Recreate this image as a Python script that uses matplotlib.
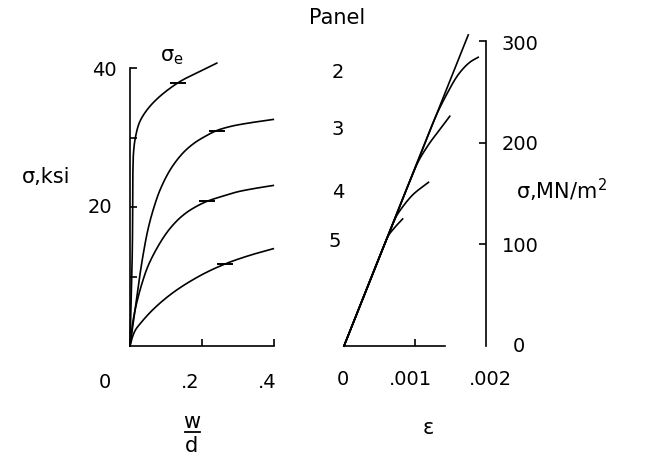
import numpy as np
import matplotlib
matplotlib.use("Agg")
import matplotlib.pyplot as plt
from matplotlib.transforms import blended_transform_factory, ScaledTranslation
from matplotlib.lines import Line2D

plt.rcParams["font.family"] = ["DejaVu Sans"]
plt.rcParams["mathtext.default"] = "regular"

# ---- stress vs. w/d (ksi), one curve per panel ----
p2_wd = [0, 0.004, 0.0065, 0.0075, 0.008, 0.010, 0.015, 0.025, 0.042, 0.074, 0.134, 0.19, 0.241]
p2_ksi = [0, 8, 14, 20, 25, 28, 30, 32, 33.6, 35.5, 37.9, 39.4, 40.7]
p3_wd = [0, 0.012, 0.024, 0.036, 0.05, 0.065, 0.083, 0.111, 0.144, 0.176, 0.21, 0.241, 0.28, 0.32, 0.398]
p3_ksi = [0, 4.5, 9, 13, 16.8, 19.7, 22.4, 25.3, 27.6, 29.1, 30.2, 31.0, 31.6, 32.0, 32.6]
p4_wd = [0, 0.008, 0.02, 0.035, 0.05, 0.074, 0.102, 0.13, 0.157, 0.185, 0.213, 0.26, 0.3, 0.35, 0.398]
p4_ksi = [0, 3.5, 6.5, 9.3, 11.5, 14.0, 16.3, 18.0, 19.2, 20.1, 20.8, 21.6, 22.2, 22.7, 23.1]
p5_wd = [0, 0.005, 0.014, 0.028, 0.065, 0.12, 0.194, 0.264, 0.33, 0.398]
p5_ksi = [0, 1.0, 2.2, 3.2, 5.3, 7.7, 10.1, 11.8, 13.0, 14.0]

# sigma_e marks on each curve
se_wd = [0.134, 0.241, 0.213, 0.264]
se_ksi = [37.9, 31.0, 20.8, 11.8]

# ---- stress vs. strain (MN/m^2) ----
lin_eps = [0, 0.00175]
lin_mn = [0, 306]
s2_eps = [0, 0.00057, 0.00105, 0.0013, 0.001465, 0.00158, 0.00168, 0.00178, 0.00189]
s2_mn = [0, 100, 184, 227, 250, 264, 273, 279.5, 284]
s3_eps = [0, 0.00057, 0.00095, 0.00105, 0.0012, 0.00135, 0.00149]
s3_mn = [0, 100, 166, 182, 199, 213, 226]
s4_eps = [0, 0.00057, 0.0007, 0.00074, 0.00086, 0.00098, 0.00119]
s4_mn = [0, 100, 122, 128, 140, 149.5, 161]
s5_eps = [0, 0.00057, 0.000625, 0.00072, 0.000826]
s5_mn = [0, 100, 108.5, 117, 125]

panel_names = ["2", "3", "4", "5"]

W, H = 646, 460
fig = plt.figure(figsize=(W / 100, H / 100), dpi=100)


def box(x0, y0, x1, y1):
    return [x0 / W, 1 - y1 / H, (x1 - x0) / W, (y1 - y0) / H]


def smooth(x, y, sx, sy, n=24):
    """Centripetal Catmull-Rom through the given points (scaled by sx, sy)."""
    P = np.column_stack([np.asarray(x) / sx, np.asarray(y) / sy])
    P = np.vstack([2 * P[0] - P[1], P, 2 * P[-1] - P[-2]])
    out = []
    for i in range(1, len(P) - 2):
        p0, p1, p2, p3 = P[i - 1], P[i], P[i + 1], P[i + 2]
        t0 = 0.0
        t1 = t0 + np.linalg.norm(p1 - p0) ** 0.5 + 1e-9
        t2 = t1 + np.linalg.norm(p2 - p1) ** 0.5 + 1e-9
        t3 = t2 + np.linalg.norm(p3 - p2) ** 0.5 + 1e-9
        t = np.linspace(t1, t2, n)[:, None]
        a1 = (t1 - t) / (t1 - t0) * p0 + (t - t0) / (t1 - t0) * p1
        a2 = (t2 - t) / (t2 - t1) * p1 + (t - t1) / (t2 - t1) * p2
        a3 = (t3 - t) / (t3 - t2) * p2 + (t - t2) / (t3 - t2) * p3
        b1 = (t2 - t) / (t2 - t0) * a1 + (t - t0) / (t2 - t0) * a2
        b2 = (t3 - t) / (t3 - t1) * a2 + (t - t1) / (t3 - t1) * a3
        c = (t2 - t) / (t2 - t1) * b1 + (t - t1) / (t2 - t1) * b2
        out.append(c if i == 1 else c[1:])
    C = np.vstack(out)
    return C[:, 0] * sx, C[:, 1] * sy


LW = 1.2
FS = 14

# ---------------- left panel ----------------
axL = fig.add_axes(box(130, 69, 274, 347))
axL.set_xlim(0, 0.4)
axL.set_ylim(0, 40)
for s in ("top", "right"):
    axL.spines[s].set_visible(False)
for s in ("left", "bottom"):
    axL.spines[s].set_linewidth(LW)
axL.set_xticks([0.2, 0.4])
axL.set_yticks([10, 20, 30, 40])
axL.set_xticklabels([])
axL.set_yticklabels([])
axL.tick_params(direction="in", length=5, width=1.2)

for xs, ys in [(p2_wd, p2_ksi), (p3_wd, p3_ksi), (p4_wd, p4_ksi), (p5_wd, p5_ksi)]:
    sx_, sy_ = smooth(xs, ys, 0.4, 40)
    axL.plot(sx_, sy_, color="black", lw=LW, clip_on=False)
axL.plot(se_wd, se_ksi, linestyle="none", marker="_", markersize=12,
         markeredgewidth=1.4, color="black", clip_on=False)

# ---------------- right panel ----------------
axR = fig.add_axes(box(344, 42, 486, 347))
axR.set_xlim(0, 0.002)
axR.set_ylim(0, 300)
for s in ("top", "left"):
    axR.spines[s].set_visible(False)
for s in ("right", "bottom"):
    axR.spines[s].set_linewidth(LW)
axR.spines["bottom"].set_bounds(0, 0.00142)
axR.yaxis.tick_right()
axR.set_xticks([0.001])
axR.set_yticks([100, 200, 300])
axR.set_xticklabels([])
axR.set_yticklabels([])
axR.tick_params(direction="in", length=5, width=1.2)

axR.plot(lin_eps, lin_mn, color="black", lw=LW, clip_on=False)
for xs, ys in [(s2_eps, s2_mn), (s3_eps, s3_mn), (s4_eps, s4_mn), (s5_eps, s5_mn)]:
    sx_, sy_ = smooth(xs, ys, 0.002, 300)
    axR.plot(sx_, sy_, color="black", lw=LW, clip_on=False)


# ---------------- tick labels ----------------
def off(dx, dy=0):
    return ScaledTranslation(dx / 100, -dy / 100, fig.dpi_scale_trans)


def xlab(ax, xv, s, dx, ypx):
    tr = blended_transform_factory(ax.transData, fig.transFigure) + off(dx)
    fig.text(xv, 1 - ypx / H, s, transform=tr, ha="center", va="center", fontsize=FS)


def ylab(ax, yv, s, xpx, ha, dy=0):
    tr = blended_transform_factory(fig.transFigure, ax.transData) + off(0, dy)
    fig.text(xpx / W, yv, s, transform=tr, ha=ha, va="center", fontsize=FS)


xlab(axL, 0.0, "0", -25, 383)
xlab(axL, 0.2, ".2", -12, 383)
xlab(axL, 0.4, ".4", -7, 383)
ylab(axL, 40, "40", 117, "right", 2)
ylab(axL, 20, "20", 112, "right", 0)

xlab(axR, 0.0, "0", -1, 380)
xlab(axR, 0.001, ".001", -5, 380)
xlab(axR, 0.002, ".002", 4, 380)
ylab(axR, 300, "300", 520, "center", 3)
ylab(axR, 200, "200", 520, "center", 1)
ylab(axR, 100, "100", 520, "center", 1)
ylab(axR, 0, "0", 519, "center", 0)


# ---------------- titles / labels ----------------
def ftext(xpx, ypx, s, ha="center", fs=FS, **kw):
    fig.text(xpx / W, 1 - ypx / H, s, ha=ha, va="center", fontsize=fs, **kw)


ftext(46, 177, "σ,ksi", fs=15)
ftext(516, 190, "σ,MN/m$^{2}$", ha="left", fs=15)
ftext(172, 57, r"$\sigma_e$", fs=15)
ftext(337, 18, "Panel", fs=15)
for name, ypx, xpx in zip(panel_names, [72, 130, 192, 242], [338, 338, 338, 335]):
    ftext(xpx, ypx, name, fs=FS)

# w/d as a stacked fraction
ftext(192, 422, "w", fs=15)
ftext(192, 446, "d", fs=15)
fig.add_artist(Line2D([185 / W, 200 / W], [1 - 433 / H, 1 - 433 / H],
                      transform=fig.transFigure, color="black", lw=1.3))
ftext(428, 428, "ε", fs=15)

fig.savefig("out.png", dpi=100)
